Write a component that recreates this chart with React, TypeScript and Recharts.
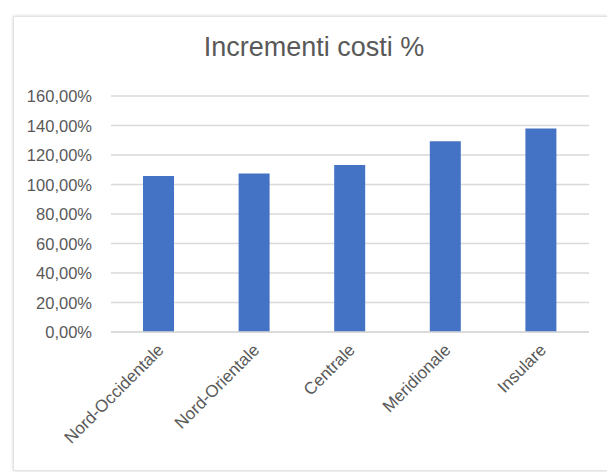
import React from "react";
import { BarChart, Bar, XAxis, YAxis, CartesianGrid } from "recharts";

const regions = ["Nord-Occidentale", "Nord-Orientale", "Centrale", "Meridionale", "Insulare"];
const increments = [1.058, 1.074, 1.133, 1.293, 1.379];
const yTicks = [0, 0.2, 0.4, 0.6, 0.8, 1.0, 1.2, 1.4, 1.6];

const data = regions.map((name, i) => ({ name, value: increments[i] }));

const FONT = "'Liberation Sans', Arial, sans-serif";
const GREY = "#595959";

const fmtPct = (v: number) => (v * 100).toFixed(2).replace(".", ",") + "%";

const AngledTick = ({ x, y, payload }: any) => (
  <g transform={`translate(${x + 6},${y + 11}) rotate(-45)`}>
    <text x={0} y={0} textAnchor="end" fill={GREY} fontSize={17} fontFamily={FONT}>
      {payload.value}
    </text>
  </g>
);

const PctTick = ({ y, payload }: any) => (
  <text x={92} y={y} dy={6} textAnchor="end" fill={GREY} fontSize={16.5} fontFamily={FONT}>
    {fmtPct(payload.value)}
  </text>
);

const App = () => {
  return (
    <div style={{ position: "absolute", left: 0, top: 0, width: 607, height: 472, background: "#fff", overflow: "hidden" }}>
      <div
        style={{
          position: "absolute",
          left: 13,
          top: 16,
          width: 640,
          height: 453,
          background: "#fff",
          border: "1px solid #e3e3e3",
          boxShadow: "0 0 3px rgba(0,0,0,0.18)",
        }}
      />
      <div
        style={{
          position: "absolute",
          left: 0,
          top: 32,
          width: 628,
          textAlign: "center",
          fontFamily: FONT,
          fontSize: 27,
          color: GREY,
        }}
      >
        Incrementi costi %
      </div>
      <div style={{ position: "absolute", left: 0, top: 0 }}>
        <BarChart
          width={607}
          height={472}
          data={data}
          margin={{ top: 96, right: 18, bottom: 0, left: 0 }}
        >
          <CartesianGrid vertical={false} stroke="#d9d9d9" strokeWidth={1.5} />
          <XAxis
            dataKey="name"
            height={140}
            interval={0}
            tickLine={false}
            axisLine={{ stroke: "#d9d9d9", strokeWidth: 1.5 }}
            tick={<AngledTick />}
          />
          <YAxis
            width={111}
            domain={[0, 1.6]}
            ticks={yTicks}
            axisLine={false}
            tickLine={false}
            tick={<PctTick />}
          />
          <Bar dataKey="value" fill="#4472C4" barSize={31} isAnimationActive={false} />
        </BarChart>
      </div>
    </div>
  );
};

export default App;
